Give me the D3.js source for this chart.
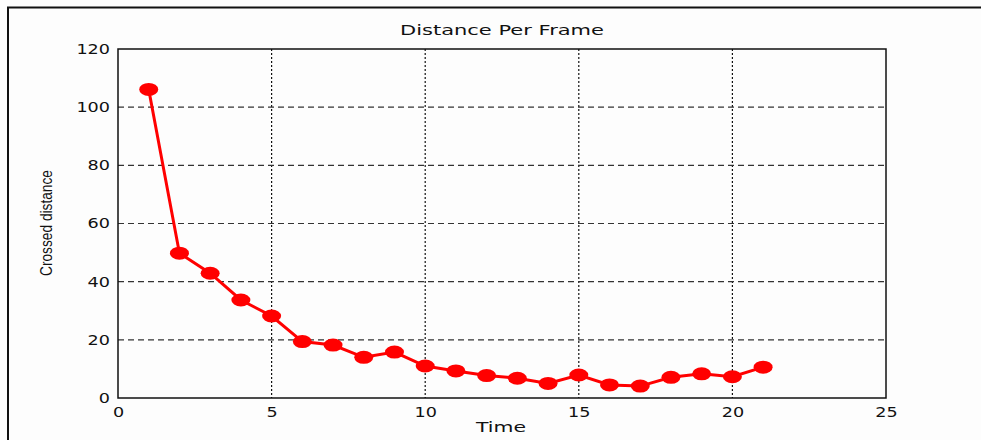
<!DOCTYPE html>
<html>
<head>
<meta charset="utf-8">
<script src="https://cdn.jsdelivr.net/npm/d3@7"></script>
<style>
  body { margin: 0; background: #fdfdfd; }
  svg { display: block; }
</style>
</head>
<body>
<svg id="main" width="981" height="440"></svg>
<script>
// values
const times = [1, 2, 3, 4, 5, 6, 7, 8, 9, 10, 11, 12, 13, 14, 15, 16, 17, 18, 19, 20, 21];
const distances = [106.1, 49.8, 42.9, 33.7, 28.2, 19.4, 18.2, 14.0, 15.8, 11.0, 9.3,
    7.7, 6.8, 5.0, 7.9, 4.5, 4.1, 7.1, 8.3, 7.3, 10.6];
const xTicks = [0, 5, 10, 15, 20, 25];
const yTicks = [0, 20, 40, 60, 80, 100, 120];

const plot = { left: 118, right: 886, top: 49, bottom: 398 };

const svg = d3.select('#main');

// outer frame (left + top edges only)
svg.append('path')
    .attr('d', 'M8,440 V7.5 H981')
    .attr('fill', 'none')
    .attr('stroke', '#111')
    .attr('stroke-width', 2);

const xScale = d3.scaleLinear().domain([0, 25]).range([plot.left, plot.right]);
const yScale = d3.scaleLinear().domain([0, 120]).range([plot.bottom, plot.top]);

// grid
svg.append('g')
    .selectAll('line')
    .data(xTicks.filter(d => d > 0 && d < 25))
    .enter()
    .append('line')
    .attr('x1', d => xScale(d)).attr('x2', d => xScale(d))
    .attr('y1', plot.top).attr('y2', plot.bottom)
    .attr('stroke', '#111')
    .attr('stroke-width', 1.2)
    .attr('stroke-dasharray', '2,2');

svg.append('g')
    .selectAll('line')
    .data(yTicks.filter(d => d > 0 && d < 120))
    .enter()
    .append('line')
    .attr('x1', plot.left).attr('x2', plot.right)
    .attr('y1', d => yScale(d)).attr('y2', d => yScale(d))
    .attr('stroke', '#333')
    .attr('stroke-width', 1.2)
    .attr('stroke-dasharray', '6,4');

// axes
const xAxis = svg.append('g')
    .attr('transform', `translate(0, ${plot.bottom})`)
    .call(d3.axisBottom(xScale).tickValues(xTicks).tickSize(0).tickPadding(6));
const yAxis = svg.append('g')
    .attr('transform', `translate(${plot.left}, 0)`)
    .call(d3.axisLeft(yScale).tickValues(yTicks).tickSize(0).tickPadding(8));

// the source picture is stretched sideways, so widen the glyphs
[xAxis, yAxis].forEach(ax => {
    ax.select('.domain').remove();
    ax.selectAll('text')
        .attr('font-family', 'DejaVu Sans, sans-serif')
        .attr('font-size', 14)
        .attr('fill', '#111')
        .attr('textLength', d => String(d).length * 11.2)
        .attr('lengthAdjust', 'spacingAndGlyphs');
});
xAxis.selectAll('text').attr('dy', '0.9em');

// box
svg.append('rect')
    .attr('x', plot.left).attr('y', plot.top)
    .attr('width', plot.right - plot.left)
    .attr('height', plot.bottom - plot.top)
    .attr('fill', 'none')
    .attr('stroke', '#111')
    .attr('stroke-width', 1.5);

// line + markers
const pts = times.map((t, i) => [t, distances[i]]);

svg.append('path')
    .datum(pts)
    .attr('fill', 'none')
    .attr('stroke', '#ff0000')
    .attr('stroke-width', 3)
    .attr('d', d3.line().x(d => xScale(d[0])).y(d => yScale(d[1])));

svg.append('g')
    .selectAll('ellipse')
    .data(pts)
    .enter()
    .append('ellipse')
    .attr('cx', d => xScale(d[0]))
    .attr('cy', d => yScale(d[1]))
    .attr('rx', 9.5)
    .attr('ry', 6.5)
    .attr('fill', '#ff0000');

// labels
svg.append('text')
    .attr('x', 502).attr('y', 35)
    .attr('text-anchor', 'middle')
    .attr('font-family', 'DejaVu Sans, sans-serif')
    .attr('font-size', 13.5)
    .attr('fill', '#111')
    .attr('textLength', 204)
    .attr('lengthAdjust', 'spacingAndGlyphs')
    .text('Distance Per Frame');

svg.append('text')
    .attr('x', 501).attr('y', 432)
    .attr('text-anchor', 'middle')
    .attr('font-family', 'DejaVu Sans, sans-serif')
    .attr('font-size', 14)
    .attr('fill', '#111')
    .attr('textLength', 50)
    .attr('lengthAdjust', 'spacingAndGlyphs')
    .text('Time');

svg.append('text')
    .attr('transform', 'translate(52, 223) rotate(-90)')
    .attr('text-anchor', 'middle')
    .attr('font-family', 'Liberation Sans Narrow, Liberation Sans, sans-serif')
    .attr('font-size', 16)
    .attr('fill', '#111')
    .attr('textLength', 106)
    .attr('lengthAdjust', 'spacingAndGlyphs')
    .text('Crossed distance');
</script>
</body>
</html>
